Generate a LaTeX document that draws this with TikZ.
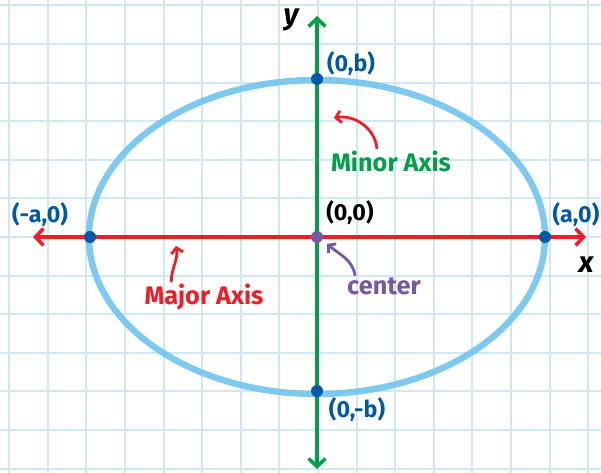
\documentclass[tikz,border=0pt]{standalone}
\usepackage{fontspec}
\setmainfont{Fira Sans}
\definecolor{gridblue}{RGB}{208,232,245}
\definecolor{ellblue}{RGB}{112,196,238}
\definecolor{ptblue}{RGB}{0,88,168}
\definecolor{axred}{RGB}{236,30,40}
\definecolor{axgreen}{RGB}{0,160,72}
\definecolor{cpurple}{RGB}{118,88,168}
\usetikzlibrary{arrows.meta,positioning}

\begin{document}
\begin{tikzpicture}[
  x=0.025cm, y=-0.025cm,
  gline/.style={draw=gridblue, line width=0.05cm},
  eline/.style={draw=ellblue, line width=0.16cm, opacity=0.9},
  axline/.style={line width=0.09cm, {Straight Barb[length=0.2cm,width=0.42cm]}-{Straight Barb[length=0.2cm,width=0.42cm]}},
  pdot/.style={circle, fill=ptblue, inner sep=0pt, minimum size=0.3cm},
  plbl/.style={font=\bfseries\fontsize{16.5}{18}\selectfont, inner sep=1pt},
  nlbl/.style={font=\bfseries\fontsize{18}{20}\selectfont, inner sep=1pt},
  varlbl/.style={font=\bfseries\itshape\fontsize{21}{23}\selectfont, inner sep=1pt},
  narr/.style={line width=0.07cm, -{Straight Barb[length=0.13cm,width=0.3cm]}}
]
\useasboundingbox[fill=white] (0,0) rectangle (601,473);

% Grid
\foreach \k in {-8,...,7}
  \draw[gline] ({318+38.6*\k},0) -- ({318+38.6*\k},473);
\foreach \k in {-6,...,6}
  \draw[gline] (0,{237+38.6*\k}) -- (601,{237+38.6*\k});

% Ellipse
\draw[eline] (317,237) ellipse [x radius=228, y radius=157];

% Axes
\coordinate (xl) at (33,237);
\coordinate (xr) at (586,237);
\coordinate (yt) at (317,16);
\coordinate (yb) at (317,469);
\draw[axline, draw=axred]   (xl) -- (xr);
\draw[axline, draw=axgreen] (yb) -- (yt);

% Vertices and center
\node[pdot] (va)  at (90,237)  {};
\node[pdot] (vb)  at (545,237) {};
\node[pdot] (cot) at (317,79)  {};
\node[pdot] (cob) at (317,391) {};
\node[pdot, fill=cpurple] (ctr) at (317,237) {};

% Point labels
\node[plbl, text=ptblue] (lva)  at (40,215)  {(-a,0)};
\node[plbl, text=ptblue] (lvb)  at (576,215) {(a,0)};
\node[plbl, text=ptblue] (lcot) at (351,64)  {(0,b)};
\node[plbl, text=ptblue] (lcob) at (357,410) {(0,-b)};
\node[plbl, text=black]  (lctr) at (350,213) {(0,0)};
\node[varlbl] (ly) at (291,20)  {y};
\node[varlbl] (lx) at (586,265) {x};

% Notes
\node[nlbl, text=axgreen] (minl) at (391,161) {Minor Axis};
\node[nlbl, text=axred]   (majl) at (204,297) {Major Axis};
\node[nlbl, text=cpurple] (cenl) at (384,286) {center};
\coordinate (minh) at (334,118);
\coordinate (majh) at (176,246);
\coordinate (cenh) at (327,244);
\draw[narr, draw=axred]   ([xshift=-0.35cm]minl.north) to[out=95, in=10] (minh);
\draw[narr, draw=axred]   ([xshift=-0.82cm]majl.north) to[out=90, in=-80] (majh);
\draw[narr, draw=cpurple] ([xshift=-0.72cm]cenl.north) to[out=100, in=-40] (cenh);
\end{tikzpicture}
\end{document}
